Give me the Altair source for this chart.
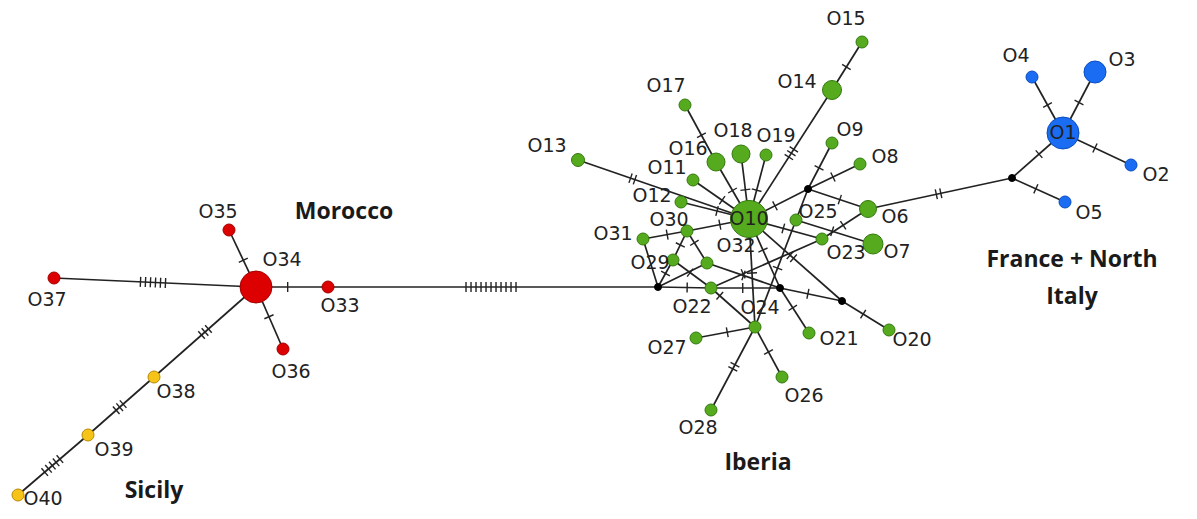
import altair as alt
import pandas as pd
import numpy as np

# ---------------- data ----------------
node_names = ["O1", "O2", "O3", "O4", "O5", "O6", "O7", "O8", "O9", "O10",
              "O11", "O12", "O13", "O14", "O15", "O16", "O17", "O18", "O19", "O20",
              "O21", "O22", "O23", "O24", "O25", "O26", "O27", "O28", "O29", "O30",
              "O31", "O32", "O33", "O34", "O35", "O36", "O37", "O38", "O39", "O40",
              "B1", "M1", "M2", "M3", "M4"]
node_x = [1063, 1131, 1095, 1032, 1065, 868, 873, 860, 832, 749,
          693, 681, 578, 832, 862, 716, 685, 741, 766, 889,
          809, 711, 822, 755, 796, 782, 696, 711, 673, 687,
          643, 707, 328, 256, 229, 283, 54, 154, 88, 18,
          1012, 658, 780, 842, 808]
node_y = [133, 165, 72, 77, 202, 209, 244, 164, 143, 219,
          180, 202, 160, 90, 42, 162, 105, 154, 155, 330,
          333, 288, 239, 327, 220, 377, 338, 410, 260, 231,
          239, 263, 287, 287, 230, 349, 278, 377, 435, 495,
          178, 287, 288, 301, 189]
node_r = [16, 6, 11, 6, 6, 8.5, 10, 6, 6, 18.5,
          6, 6, 6.5, 9.5, 6, 9, 6, 9, 6, 6,
          6, 6, 6, 6, 6, 6, 6, 6, 6, 6,
          6, 6, 6, 16, 6, 6, 6, 6, 6, 6,
          3.5, 3.5, 3.5, 3.5, 3.5]
node_group = (["France"] * 5 + ["Iberia"] * 27 + ["Morocco"] * 5 +
              ["Sicily"] * 3 + ["median"] * 5)
# label offsets relative to node centre
label_dx = [0, 25, 27, -16, 24, 27, 24, 25, 18, 0,
            -26, -29, -31, -35, -16, -28, -19, -8, 10, 23,
            30, -19, 24, 5, 22, 22, -29, -13, -23, -18,
            -30, 29, 12, 26, -11, 8, -7, 22, 26, 25]
label_dy = [0, 10, -12, -21, 11, 8, 8, -7, -13, 0,
            -12, -6, -14, -8, -23, -13, -19, -23, -19, 10,
            6, 19, 14, -19, -8, 19, 10, 18, 3, -11,
            -5, -17, 19, -27, -18, 23, 22, 15, 15, 4]

edges = [
    # a, b, number of mutations, tick position along edge
    ("O1", "O3", 1, 0.5), ("O1", "O4", 1, 0.5), ("O1", "O2", 1, 0.47),
    ("B1", "O1", 1, 0.53), ("B1", "O5", 1, 0.45), ("O6", "B1", 2, 0.49),
    ("O10", "O13", 2, 0.68), ("O10", "O12", 1, 0.47), ("O10", "O11", 1, 0.48),
    ("O10", "O16", 1, 0.5), ("O16", "O17", 1, 0.47), ("O10", "O18", 1, 0.45),
    ("O10", "O19", 1, 0.45), ("O10", "O14", 3, 0.51), ("O14", "O15", 1, 0.48),
    ("O10", "M4", 1, 0.44), ("M4", "O9", 1, 0.46), ("M4", "O8", 1, 0.48),
    ("M4", "O6", 1, 0.53), ("M4", "O25", 0, 0.5), ("O25", "O24", 1, 0.45),
    ("O25", "O7", 1, 0.47), ("O6", "O23", 1, 0.54), ("O10", "O23", 1, 0.47),
    ("O23", "O22", 1, 0.71), ("O10", "O30", 1, 0.47), ("O30", "O31", 1, 0.45),
    ("O30", "O29", 1, 0.48), ("O30", "O32", 1, 0.37), ("M1", "O31", 0, 0.5),
    ("M1", "O29", 1, 0.5), ("M1", "O32", 0, 0.5), ("M1", "O22", 1, 0.55),
    ("O29", "O22", 1, 0.45), ("O22", "O24", 1, 0.2), ("O22", "M2", 1, 0.46),
    ("O32", "M2", 1, 0.5), ("O10", "O24", 1, 0.5), ("O10", "M2", 1, 0.45),
    ("M2", "O21", 1, 0.44), ("M2", "M3", 1, 0.45), ("O10", "M3", 2, 0.46),
    ("M3", "O20", 1, 0.45), ("O24", "O27", 1, 0.47), ("O24", "O26", 1, 0.5),
    ("O24", "O28", 2, 0.48),
    ("M1", "O33", 11, 0.506), ("O34", "O33", 1, 0.44), ("O34", "O35", 1, 0.47),
    ("O34", "O36", 1, 0.48), ("O34", "O37", 6, 0.51), ("O34", "O38", 3, 0.5),
    ("O38", "O39", 3, 0.52), ("O39", "O40", 5, 0.51),
]

region_text = ["Morocco", "Iberia", "Sicily", "France + North", "Italy"]
region_x = [344, 758, 154, 1072, 1072]
region_y = [212, 463, 491, 260, 297]

# ---------------- tables ----------------
nodes = pd.DataFrame({"name": node_names, "x": node_x, "y": node_y,
                      "r": node_r, "group": node_group})
nodes["size"] = (2 * nodes["r"]) ** 2
pos = {n: (x, y) for n, x, y in zip(node_names, node_x, node_y)}

edge_rows, tick_rows = [], []
for a, b, k, t in edges:
    (xa, ya), (xb, yb) = pos[a], pos[b]
    edge_rows.append({"x": xa, "y": ya, "x2": xb, "y2": yb})
    dx, dy = xb - xa, yb - ya
    L = np.hypot(dx, dy)
    ux, uy = dx / L, dy / L
    px, py = -uy, ux
    cx, cy = xa + t * dx, ya + t * dy
    sp = 5.0 if k > 3 else 4.6
    half = 5.0
    for i in range(k):
        s = (i - (k - 1) / 2) * sp
        mx, my = cx + s * ux, cy + s * uy
        tick_rows.append({"x": mx + half * px, "y": my + half * py,
                          "x2": mx - half * px, "y2": my - half * py})
edf = pd.DataFrame(edge_rows)
tdf = pd.DataFrame(tick_rows)

labels = nodes.iloc[:40].copy()
labels["lx"] = labels["x"] + np.array(label_dx)
labels["ly"] = labels["y"] + np.array(label_dy)
regions = pd.DataFrame({"text": region_text, "x": region_x, "y": region_y})

# ---------------- chart ----------------
xs = alt.Scale(domain=[8, 1189], nice=False, zero=False)
ys = alt.Scale(domain=[511, 8], nice=False, zero=False)

edge_layer = alt.Chart(edf).mark_rule(color="#222222", strokeWidth=1.7).encode(
    x=alt.X("x:Q", scale=xs, axis=None), y=alt.Y("y:Q", scale=ys, axis=None),
    x2="x2:Q", y2="y2:Q")
tick_layer = alt.Chart(tdf).mark_rule(color="#222222", strokeWidth=1.4).encode(
    x=alt.X("x:Q", scale=xs, axis=None), y=alt.Y("y:Q", scale=ys, axis=None),
    x2="x2:Q", y2="y2:Q")

groups = ["France", "Iberia", "Morocco", "Sicily", "median"]
fills = ["#1a6cf2", "#55ab1d", "#dc0000", "#f6c419", "#000000"]
strokes = ["#0a4cc0", "#347a10", "#a30000", "#b88a00", "#000000"]

node_layer = alt.Chart(nodes).mark_circle(opacity=1, strokeWidth=1).encode(
    x=alt.X("x:Q", scale=xs, axis=None), y=alt.Y("y:Q", scale=ys, axis=None),
    size=alt.Size("size:Q", scale=None, legend=None),
    color=alt.Color("group:N", scale=alt.Scale(domain=groups, range=fills), legend=None),
    stroke=alt.Stroke("group:N", scale=alt.Scale(domain=groups, range=strokes), legend=None))

label_layer = alt.Chart(labels).mark_text(
    font="DejaVu Sans", fontSize=19, color="#222222", align="center", baseline="middle"
).encode(x=alt.X("lx:Q", scale=xs, axis=None), y=alt.Y("ly:Q", scale=ys, axis=None),
         text="name:N")

region_layer = alt.Chart(regions).mark_text(
    font="Open Sans", fontSize=23, fontWeight="bold", color="#1a1a1a",
    align="center", baseline="middle"
).encode(x=alt.X("x:Q", scale=xs, axis=None), y=alt.Y("y:Q", scale=ys, axis=None),
         text="text:N")

chart = alt.layer(edge_layer, tick_layer, node_layer, label_layer, region_layer).properties(
    width=1181, height=503, padding=0,
    autosize=alt.AutoSizeParams(type="none"),
    background="white"
).configure_view(stroke=None)

chart.save("out.html", embed_options={"renderer": "svg", "actions": False})
